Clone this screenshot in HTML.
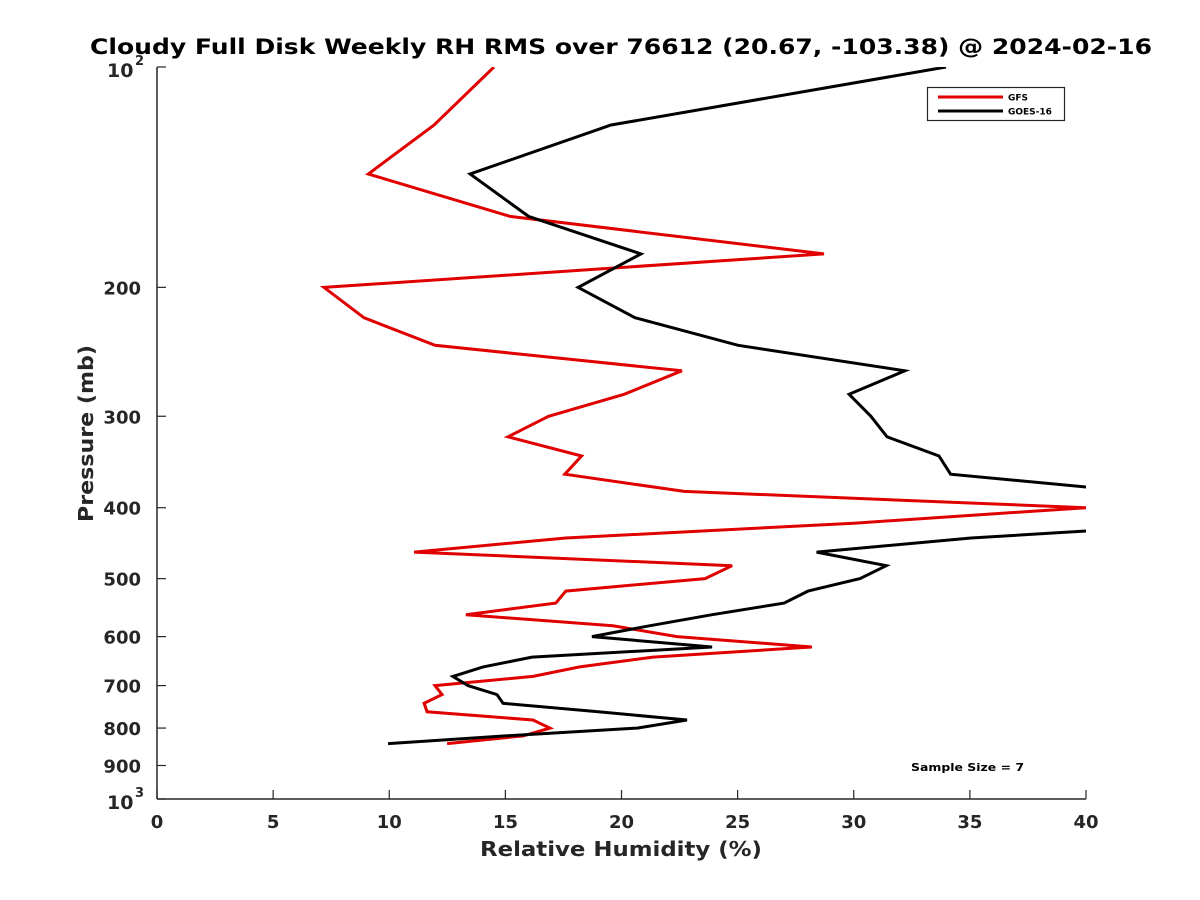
<!DOCTYPE html>
<html><head><meta charset="utf-8"><style>
html,body{margin:0;padding:0;background:#fff;}
svg{display:block;font-family:"DejaVu Sans","Liberation Sans",sans-serif;}
</style></head><body>
<svg id="chart" width="1200" height="900" viewBox="0 0 1200 900">
<rect width="1200" height="900" fill="#fff"/>
<text x="90" y="54" font-size="21.5" font-weight="bold" fill="#000" textLength="1062" lengthAdjust="spacingAndGlyphs">Cloudy Full Disk Weekly RH RMS over 76612 (20.67, -103.38) @ 2024-02-16</text>
<defs><clipPath id="plotclip"><rect x="157" y="67" width="929" height="732"/></clipPath></defs>
<g id="axes"></g>
<g id="series" clip-path="url(#plotclip)"></g>
<g>
<rect x="927.5" y="87.5" width="137" height="33" fill="#fff" stroke="#262626" stroke-width="1.2"/>
<line x1="938" y1="97" x2="1003" y2="97" stroke="#e00000" stroke-width="3"/>
<text x="1008" y="100.5" font-size="9" font-weight="bold">GFS</text>
<line x1="938" y1="111" x2="1003" y2="111" stroke="#000" stroke-width="3"/>
<text x="1008" y="114.5" font-size="9" font-weight="bold">GOES-16</text>
</g>
<text x="911" y="771" font-size="11" font-weight="bold" textLength="113" lengthAdjust="spacingAndGlyphs">Sample Size = 7</text>
<text x="480" y="856" font-size="20" font-weight="bold" fill="#262626" textLength="282" lengthAdjust="spacingAndGlyphs">Relative Humidity (%)</text>
<text transform="translate(93,522) rotate(-90)" font-size="20" font-weight="bold" fill="#262626" textLength="177" lengthAdjust="spacingAndGlyphs">Pressure (mb)</text>
</svg>
<script>
const pressureLevels = [100,120,140,160,180,200,220,240,260,280,300,320,340,360,380,400,420,440,460,480,500,520,540,560,580,600,620,640,660,680,700,720,740,760,780,800,820,840];
const gfsValues = [14.51,11.93,9.1,15.2,28.72,7.19,8.91,11.97,22.6,20.11,16.86,15.11,18.28,17.56,22.7,40.0,30.0,17.6,11.07,24.76,23.6,17.6,17.17,13.3,19.63,22.39,28.2,21.36,18.2,16.19,11.97,12.27,11.5,11.63,16.19,16.92,15.76,12.49];
const goesValues = [33.97,19.55,13.48,16.0,20.84,18.13,20.58,25.02,32.2,29.8,30.74,31.43,33.67,34.17,42.0,50.0,45.6,35.05,28.4,31.4,30.27,28.03,27.0,23.9,21.2,18.73,23.9,16.15,14.04,12.74,13.39,14.64,14.9,19.0,22.82,20.67,15.0,9.95];
const xTicks = [0,5,10,15,20,25,30,35,40];
const yTicks = [100,200,300,400,500,600,700,800,900,1000];
const yTickLabels = ["","200","300","400","500","600","700","800","900",""];

const X0=157,X1=1086,Y0=67,Y1=799;
const xs = v => X0 + (v-0)/(40-0)*(X1-X0);
const ys = p => Y0 + Math.log10(p/100)*(Y1-Y0);
const NS="http://www.w3.org/2000/svg";
const axes=document.getElementById('axes');
const series=document.getElementById('series');
function mk(tag,attrs,parent){const e=document.createElementNS(NS,tag);for(const k in attrs)e.setAttribute(k,attrs[k]);parent.appendChild(e);return e;}

const yAxis=mk('line',{x1:X0,y1:Y0,x2:X0,y2:Y1,stroke:'#262626','stroke-width':1.5},axes);


const xAxis=mk('line',{x1:X0,y1:Y1,x2:X1,y2:Y1,stroke:'#262626','stroke-width':1.5},axes);



xTicks.forEach(v=>{
  const x=xs(v);
  const t=mk('line',{x1:x,y1:Y1,x2:x,y2:Y1-9,stroke:'#262626','stroke-width':1.2},axes);
  
  
  const l=mk('text',{x:x,y:Y1+29,'text-anchor':'middle','font-size':18,'font-weight':'bold',fill:'#262626'},axes);
  l.textContent=String(v);
  
  
});
yTicks.forEach((p,i)=>{
  const y=ys(p);
  const t=mk('line',{x1:X0,y1:y,x2:X0+9,y2:y,stroke:'#262626','stroke-width':1.2},axes);
  
  
  if(yTickLabels[i]){
    const l=mk('text',{x:X0-16,y:y+7,'text-anchor':'end','font-size':18,'font-weight':'bold',fill:'#262626'},axes);
    l.textContent=yTickLabels[i];
    
    
  }
});
function powLabel(y,exp){
  const l=mk('text',{x:X0-50,y:y+10,'font-size':19,'font-weight':'bold',fill:'#262626'},axes);
  l.textContent='10';
  
  
  const s=mk('text',{x:X0-22,y:y-2,'font-size':13,'font-weight':'bold',fill:'#262626'},axes);
  s.textContent=exp;
  
  
}
powLabel(ys(100),'2');
powLabel(ys(1000),'3');

function drawLine(vals,color,name){
  const pts=vals.map((v,i)=>xs(v).toFixed(1)+','+ys(pressureLevels[i]).toFixed(1)).join(' ');
  const pl=mk('polyline',{points:pts,fill:'none',stroke:color,'stroke-width':3,'stroke-linejoin':'miter'},series);
  
  
}
drawLine(gfsValues,'#e00000','gfs-line');
drawLine(goesValues,'#000000','goes16-line');
</script>
</body></html>
